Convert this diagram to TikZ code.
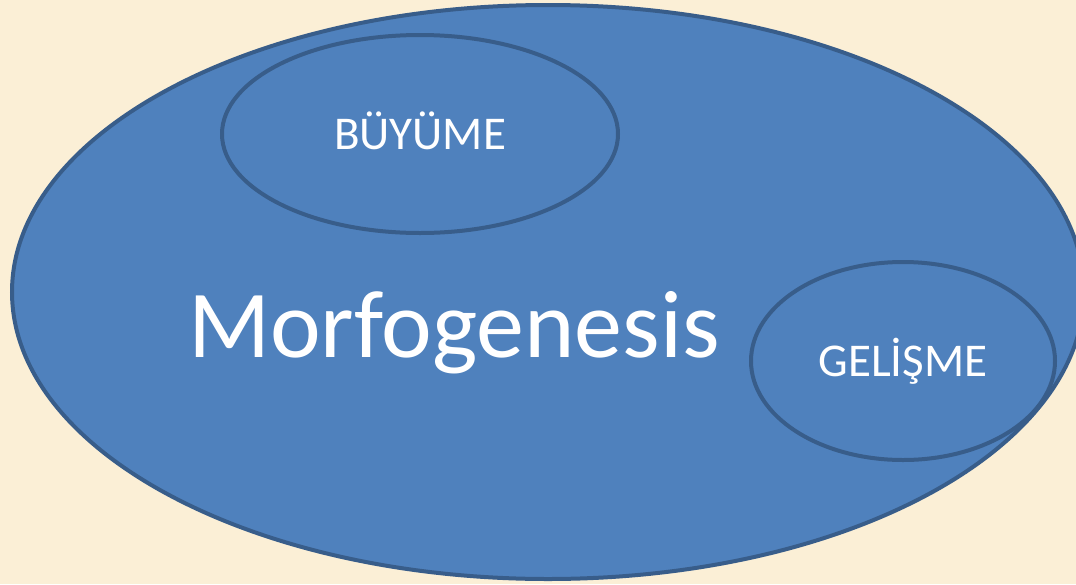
\documentclass[tikz,border=0pt]{standalone}
\usepackage{fontspec}
\setmainfont{Carlito}
\usetikzlibrary{shapes.geometric}
\definecolor{blobfill}{HTML}{4F81BD}
\definecolor{blobline}{HTML}{385D8A}
\definecolor{paper}{HTML}{FBEFD6}

\begin{document}
\begin{tikzpicture}[x=1pt,y=-1pt,
  blob/.style={ellipse,draw=blobline,line width=4pt,fill=blobfill,inner sep=0pt},
  word/.style={text=white,font=\fontsize{47}{50}\selectfont,text height=30pt,text depth=0pt}]
\fill[paper] (0,0) rectangle (1076,584);
\useasboundingbox (0,0) rectangle (1076,584);
% outer field
\node[blob,minimum width=1072pt,minimum height=574pt] (field) at (548,292) {};
\node[text=white,font=\fontsize{96}{100}\selectfont,text height=65pt,text depth=0pt] (title) at (454,325) {Morfogenesis};
% inner fields
\node[blob,word,minimum width=396pt,minimum height=198pt] (growth) at (420,134) {BÜYÜME};
\node[blob,word,minimum width=304pt,minimum height=198pt] (develop) at (903,361) {GELİŞME};
\end{tikzpicture}
\end{document}
